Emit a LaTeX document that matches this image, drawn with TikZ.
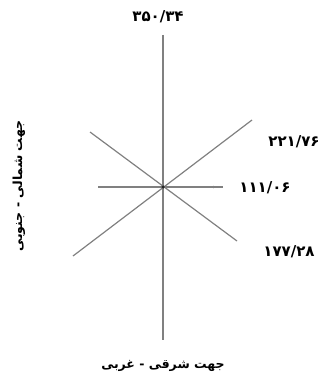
\documentclass[tikz,border=0pt]{standalone}
\usepackage{fontspec}
\newfontfamily\arabicfont[Script=Arabic]{DejaVu Sans}
\TeXXeTstate=1
\usetikzlibrary{arrows.meta}
\begin{document}
\begin{tikzpicture}[x=1pt,y=-1pt,
  axis/.style={draw=black!50,line width=1.2pt},
  numlbl/.style={font=\arabicfont\bfseries\fontsize{15}{17}\selectfont,inner sep=0pt},
  dirlbl/.style={font=\arabicfont\bfseries\fontsize{12.5}{14}\selectfont,inner sep=0pt}]
\useasboundingbox (0,0) rectangle (325,385);
\coordinate (O) at (163,187);
\coordinate (N) at (163,35);
\coordinate (S) at (163,340);
\coordinate (W) at (98,187);
\coordinate (E) at (223,187);
\coordinate (Em) at (216,187);
\coordinate (NW) at (90,132);
\coordinate (SE) at (237,241);
\coordinate (SW) at (73,256);
\coordinate (NE) at (252,120);
\draw[axis] (N) -- (S);
\draw[axis] (W) -- (E);
\draw[axis,-{Latex[length=3pt,width=3pt]}] (O) -- (Em);
\draw[axis] (NW) -- (SE);
\draw[axis] (SW) -- (NE);
\node[circle,fill=black!85,inner sep=0pt,minimum size=3.5pt] (c) at (O) {};
\node[numlbl] (t1) at (158,17) {۳۵۰/۳۴};
\node[numlbl] (t2) at (294,142) {۲۲۱/۷۶};
\node[numlbl] (t3) at (265,188) {۱۱۱/۰۶};
\node[numlbl] (t4) at (289,252) {۱۷۷/۲۸};
\node[dirlbl,rotate=90] (ns) at (19,186) {\beginR جهت شمالی - جنوبی\endR};
\node[dirlbl] (ew) at (163,366) {\beginR جهت شرقی - غربی\endR};
\end{tikzpicture}
\end{document}
